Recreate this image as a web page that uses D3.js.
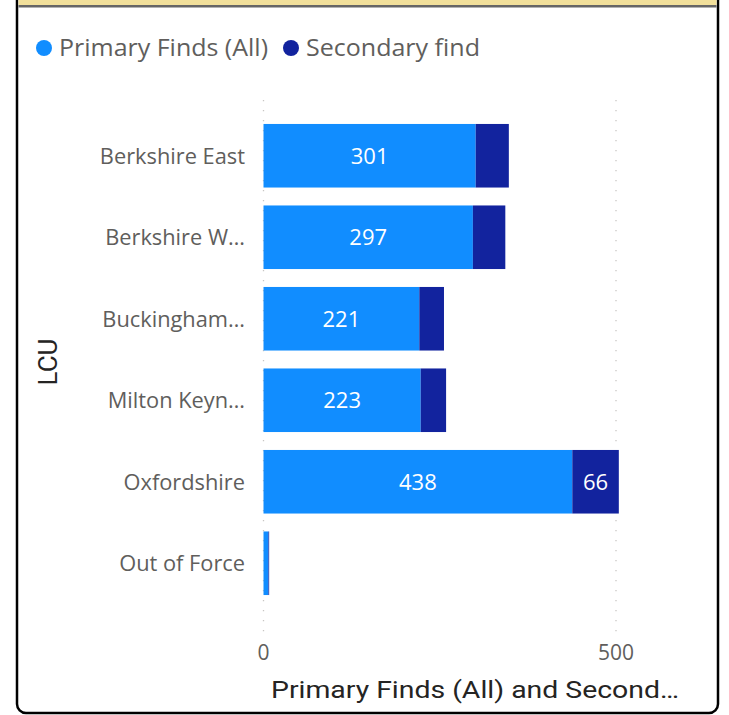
<!DOCTYPE html>
<html>
<head>
<meta charset="utf-8">
<script src="https://cdn.jsdelivr.net/npm/d3@7"></script>
<style>
html,body{margin:0;padding:0;background:#fff;}
svg{display:block;}
</style>
</head>
<body>
<svg id="chart" width="729" height="715"></svg>
<script>
const categories = ["Berkshire East","Berkshire W…","Buckingham…","Milton Keyn…","Oxfordshire","Out of Force"];
const primaryFinds = [301, 297, 221, 223, 438, 7];
const secondaryFinds = [47, 46, 35, 36, 66, 1];
const seriesNames = ["Primary Finds (All)", "Secondary find"];
const seriesColors = ["#118DFF", "#12239E"];
const xTicks = [0, 500];
const yAxisTitle = "LCU";
const xAxisTitle = "Primary Finds (All) and Second…";

const svg = d3.select("#chart");

// card
svg.append("rect").attr("x", 17).attr("y", -20).attr("width", 701).attr("height", 733)
  .attr("rx", 9).attr("fill", "#fff").attr("stroke", "#000").attr("stroke-width", 2.5);
svg.append("rect").attr("x", 18.5).attr("y", -20).attr("width", 698).attr("height", 25.5).attr("fill", "#F2E09B");
svg.append("rect").attr("x", 18.5).attr("y", 5).attr("width", 698).attr("height", 2.5).attr("fill", "#666");

const font = "'Segoe UI', 'Open Sans', 'Noto Sans', sans-serif";

// legend
const legend = svg.append("g");
const legendX = [44, 291];
const legendW = [209, 174];
seriesNames.forEach((n, i) => {
  legend.append("circle").attr("cx", legendX[i]).attr("cy", 48).attr("r", 8).attr("fill", seriesColors[i]);
  legend.append("text").attr("x", legendX[i] + 15).attr("y", 56).attr("font-family", font)
    .attr("font-size", 23).attr("fill", "#605E5C")
    .attr("textLength", legendW[i]).attr("lengthAdjust", "spacingAndGlyphs").text(n);
});

const x = d3.scaleLinear().domain([0, 500]).range([263.5, 616]);
const y = d3.scaleBand().domain(categories).range([115, 604]).paddingInner(0.22).paddingOuter(0.11);

// gridlines
svg.append("g").selectAll("line").data(xTicks).join("line")
  .attr("x1", d => x(d)).attr("x2", d => x(d)).attr("y1", 100).attr("y2", 640)
  .attr("stroke", "#C8C6C4").attr("stroke-width", 1.3).attr("stroke-dasharray", "1.3,8.7");

// bars
const stackData = categories.map((c, i) => ({cat: c, p: primaryFinds[i], s: secondaryFinds[i]}));
const stack = d3.stack().keys(["p", "s"])(stackData);
const bh = y.bandwidth();
stack.forEach((layer, li) => {
  const g = svg.append("g");
  g.selectAll("rect").data(layer).join("rect")
    .attr("x", d => x(d[0])).attr("y", d => y(d.data.cat))
    .attr("width", d => x(d[1]) - x(d[0])).attr("height", bh)
    .attr("fill", seriesColors[li]);
  g.selectAll("text").data(layer.filter(d => x(d[1]) - x(d[0]) > 40)).join("text")
    .attr("x", d => (x(d[0]) + x(d[1])) / 2).attr("y", d => y(d.data.cat) + bh / 2 + 8)
    .attr("text-anchor", "middle").attr("font-family", font).attr("font-size", 22)
    .attr("fill", "#fff").text(d => d[1] - d[0]);
});

// y axis labels
svg.append("g").selectAll("text").data(categories).join("text")
  .attr("x", 245).attr("y", d => y(d) + bh / 2 + 8)
  .attr("text-anchor", "end").attr("font-family", font).attr("font-size", 21.8)
  .attr("fill", "#605E5C").text(d => d);

// x tick labels
svg.append("g").selectAll("text").data(xTicks).join("text")
  .attr("x", d => x(d)).attr("y", 660).attr("text-anchor", "middle")
  .attr("font-family", font).attr("font-size", 21).attr("fill", "#605E5C").text(d => d);

// axis titles
svg.append("text").attr("transform", "translate(57,362) rotate(-90)").attr("text-anchor", "middle")
  .attr("font-family", "'DIN', 'Roboto', sans-serif").attr("font-size", 26).attr("fill", "#252423")
  .text(yAxisTitle);
svg.append("text").attr("x", 271).attr("y", 698)
  .attr("font-family", "'DIN', 'Roboto', sans-serif").attr("font-size", 24).attr("fill", "#252423")
  .attr("textLength", 408).attr("lengthAdjust", "spacingAndGlyphs")
  .text(xAxisTitle);
</script>
</body>
</html>
